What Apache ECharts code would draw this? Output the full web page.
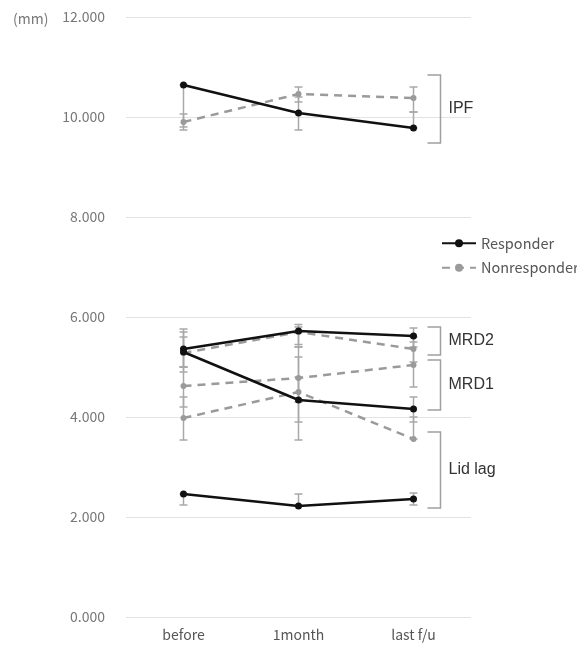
<!DOCTYPE html>
<html>
<head>
<meta charset="utf-8">
<script src="https://cdn.jsdelivr.net/npm/echarts@6/dist/echarts.min.js"></script>
<style>html,body{margin:0;padding:0;background:#fff;}#c{width:577px;height:648px;}</style>
</head>
<body>
<div id="c"></div>
<script>
const categories = ['before', '1month', 'last f/u'];
const yTicks = [0, 2, 4, 6, 8, 10, 12];

// Responder means
const responderIPF = [10.64, 10.08, 9.78];
const responderMRD2 = [5.36, 5.72, 5.62];
const responderMRD1 = [5.30, 4.34, 4.16];
const responderLidLag = [2.46, 2.22, 2.36];
// Nonresponder means
const nonresponderIPF = [9.90, 10.46, 10.38];
const nonresponderMRD2 = [5.28, 5.70, 5.36];
const nonresponderMRD1 = [4.62, 4.78, 5.04];
const nonresponderLidLag = [3.98, 4.50, 3.56];

// Error bars [low, high]
const responderIPFErr = [[9.80, 10.64], [9.74, 10.40], [9.78, 10.10]];
const responderMRD2Err = [[5.00, 5.76], [5.40, 5.80], [5.40, 5.78]];
const responderMRD1Err = [[4.90, 5.70], [3.90, 4.80], [3.90, 4.40]];
const responderLidLagErr = [[2.24, 2.46], [2.22, 2.46], [2.24, 2.48]];
const nonresponderIPFErr = [[9.74, 10.06], [10.30, 10.60], [10.10, 10.60]];
const nonresponderMRD2Err = [[5.00, 5.60], [5.45, 5.85], [5.10, 5.60]];
const nonresponderMRD1Err = [[4.20, 5.00], [4.30, 5.20], [4.60, 5.50]];
const nonresponderLidLagErr = [[3.54, 4.40], [3.54, 5.40], [3.56, 4.00]];

// Brackets
const bracketLabels = ['IPF', 'MRD2', 'MRD1', 'Lid lag'];
const bracketLow = [9.48, 5.24, 4.14, 2.18];
const bracketHigh = [10.84, 5.80, 5.14, 3.70];

const chart = echarts.init(document.getElementById('c'), null, {renderer: 'canvas'});

const rColor = '#111111';
const nColor = '#9a9a9a';
const errColor = '#a8a8a8';
const uiFont = 'Noto Sans CJK KR';

function lineSeries(name, data, isResp) {
  return {
    type: 'line', name: name, data: data, z: isResp ? 5 : 4,
    symbol: 'circle', symbolSize: isResp ? 7 : 6,
    itemStyle: {color: isResp ? rColor : nColor},
    lineStyle: {color: isResp ? rColor : nColor, width: 2.5, type: isResp ? 'solid' : [8, 6]},
    emphasis: {disabled: true}, animation: false
  };
}

const errData = [];
[responderIPFErr, responderMRD2Err, responderMRD1Err, responderLidLagErr,
 nonresponderIPFErr, nonresponderMRD2Err, nonresponderMRD1Err, nonresponderLidLagErr].forEach(arr => {
  arr.forEach((p, i) => errData.push([i, p[0], p[1]]));
});

const bracketData = bracketLabels.map((l, i) => [2, bracketLow[i], bracketHigh[i], l]);

chart.setOption({
  animation: false,
  grid: {left: 126, right: 106, top: 17, bottom: 31},
  legend: {
    orient: 'vertical', left: 436, top: 231, itemWidth: 34, itemHeight: 10, itemGap: 10,
    textStyle: {color: '#555', fontSize: 14.5, fontFamily: uiFont},
    data: ['Responder', 'Nonresponder']
  },
  xAxis: {
    type: 'category', data: categories, boundaryGap: true,
    axisLine: {show: false}, axisTick: {show: false},
    axisLabel: {color: '#555', fontSize: 14, margin: 11, fontFamily: uiFont}
  },
  yAxis: {
    type: 'value', min: yTicks[0], max: yTicks[yTicks.length - 1], interval: 2,
    axisLine: {show: false}, axisTick: {show: false},
    splitLine: {lineStyle: {color: '#e3e3e3', width: 1}},
    axisLabel: {color: '#777', fontSize: 14, margin: 21, fontFamily: uiFont,
      formatter: v => v.toFixed(3)}
  },
  graphic: [{
    type: 'text', left: 13, top: 12,
    style: {text: '(mm)', fill: '#777', fontSize: 14, fontFamily: uiFont}
  }],
  series: [
    {
      type: 'custom', name: 'err', z: 2, silent: true, data: errData,
      renderItem: function (params, api) {
        const x = api.value(0);
        const lo = api.coord([x, api.value(1)]);
        const hi = api.coord([x, api.value(2)]);
        const w = 4;
        const st = {stroke: errColor, lineWidth: 1.5};
        return {type: 'group', children: [
          {type: 'line', shape: {x1: lo[0], y1: lo[1], x2: hi[0], y2: hi[1]}, style: st},
          {type: 'line', shape: {x1: lo[0] - w, y1: lo[1], x2: lo[0] + w, y2: lo[1]}, style: st},
          {type: 'line', shape: {x1: hi[0] - w, y1: hi[1], x2: hi[0] + w, y2: hi[1]}, style: st}
        ]};
      }
    },
    lineSeries('Responder', responderIPF, true),
    lineSeries('Responder', responderMRD2, true),
    lineSeries('Responder', responderMRD1, true),
    lineSeries('Responder', responderLidLag, true),
    lineSeries('Nonresponder', nonresponderIPF, false),
    lineSeries('Nonresponder', nonresponderMRD2, false),
    lineSeries('Nonresponder', nonresponderMRD1, false),
    lineSeries('Nonresponder', nonresponderLidLag, false),
    {
      type: 'custom', name: 'bracket', z: 3, silent: true, clip: false, data: bracketData,
      renderItem: function (params, api) {
        const top = api.coord([api.value(0), api.value(2)]);
        const bot = api.coord([api.value(0), api.value(1)]);
        const x0 = top[0] + 14, x1 = top[0] + 27;
        const mid = (top[1] + bot[1]) / 2;
        return {type: 'group', children: [
          {type: 'polyline', shape: {points: [[x0, top[1]], [x1, top[1]], [x1, bot[1]], [x0, bot[1]]]},
            style: {stroke: '#a0a0a0', lineWidth: 1.5, fill: null}},
          {type: 'text', x: x1 + 8, y: mid,
            style: {text: api.value(3), fill: '#333', fontSize: 16, fontFamily: 'Liberation Sans',
              textVerticalAlign: 'middle', verticalAlign: 'middle'}}
        ]};
      }
    }
  ]
});
</script>
</body>
</html>
